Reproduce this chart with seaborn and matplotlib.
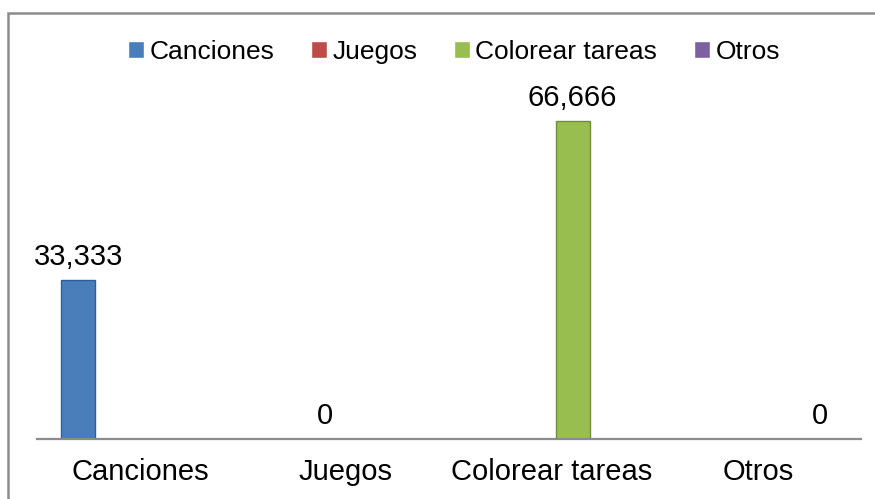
import pandas as pd
import seaborn as sns
import matplotlib.pyplot as plt
from matplotlib.patches import Rectangle

categorias = ["Canciones", "Juegos", "Colorear tareas", "Otros"]
series = ["Canciones", "Juegos", "Colorear tareas", "Otros"]
valores = [33.333, 0, 66.666, 0]
colores = ["#4A7EBB", "#BE4B48", "#98BE50", "#7D60A0"]
bordes = ["#2F5F98", "#8E2F2C", "#6E8F35", "#5A4380"]

# one value per series, each in its own category (clustered bars in the original)
df = pd.DataFrame({"categoria": categorias, "serie": series, "valor": valores})

sns.set_theme(style="white")
plt.rcParams["font.family"] = ["Liberation Sans", "DejaVu Sans"]

fig = plt.figure(figsize=(8.75, 4.99), dpi=100)
ax = fig.add_axes([0.0423, 0.1202, 0.9417, 0.7656])

sns.barplot(data=df, x="categoria", y="valor", hue="serie",
            order=categorias, hue_order=series, palette=colores,
            saturation=1, dodge=True, legend=True,
            width=0.8, gap=0.17, ax=ax)

for cont, borde in zip(ax.containers, bordes):
    for bar in cont:
        bar.set_edgecolor(borde)
        bar.set_linewidth(1.0)
    etiquetas = [f"{b.get_height():g}".replace(".", ",") for b in cont]
    ax.bar_label(cont, labels=etiquetas, padding=6.5, fontsize=21, color="black")

ax.set_ylim(0, 80)
ax.set_xlim(-0.5, 3.5)
ax.set_xlabel("")
ax.set_ylabel("")
ax.set_yticks([])
ax.tick_params(axis="x", length=0, pad=14, labelsize=21, colors="black")
for s in ["top", "right", "left"]:
    ax.spines[s].set_visible(False)
ax.spines["bottom"].set_color("#8C8C8C")
ax.spines["bottom"].set_linewidth(1.6)

handles, labels = ax.get_legend_handles_labels()
ax.legend(handles, labels, loc="center", bbox_to_anchor=(454 / 875, 1 - 52 / 499),
          bbox_transform=fig.transFigure, ncol=4, frameon=False, fontsize=19,
          labelcolor="black", handlelength=0.6, handleheight=0.6,
          handletextpad=0.2, columnspacing=1.4)

# chart frame (only left and top edges are visible in the crop)
fig.patches.append(Rectangle((8 / 875, -0.1), 1.2, 1 - 13 / 499 + 0.1,
                             transform=fig.transFigure, fill=False,
                             edgecolor="#8C8C8C", linewidth=1.8))

fig.savefig("out.png", dpi=100)
